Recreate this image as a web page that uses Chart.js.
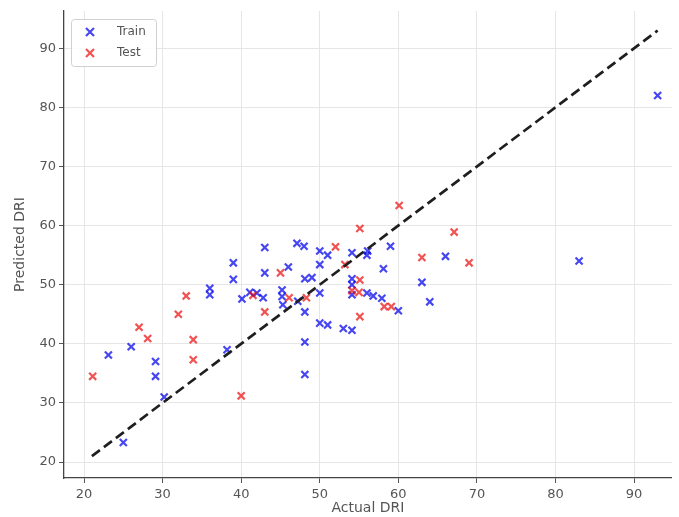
<!DOCTYPE html>
<html><head><meta charset="utf-8">
<script src="https://cdn.jsdelivr.net/npm/chart.js@4.4.1/dist/chart.umd.min.js"></script>
<style>html,body{margin:0;padding:0;background:#fff;overflow:hidden}#wrap{width:679px;height:517px;position:relative}canvas{display:block}</style>
</head><body><div id="wrap"><canvas id="c" width="679" height="517" style="width:679px;height:517px"></canvas></div>
<script>
// Data
const trainActual = [93, 83, 25, 23.1, 26, 29.1, 29.1, 30.2, 36, 36, 38.2, 39, 39, 40.1, 41.1, 42, 42.8, 43, 43, 46, 47.1, 48, 48.1, 49, 50, 45.2, 45.2, 45.3, 47.2, 48.1, 48.1, 48.1, 50, 51, 50, 50, 51, 53, 54.1, 54.1, 56.1, 59, 58.1, 54.1, 54.1, 54.1, 56, 56.8, 57.9, 60, 63, 64, 66, 56];
const trainPred   = [82, 54, 23.3, 38.1, 39.5, 37, 34.5, 31, 49.4, 48.3, 39, 53.7, 50.9, 47.6, 48.7, 48.6, 47.8, 56.3, 52, 53, 57, 56.5, 51, 51.2, 48.6, 49.1, 48, 46.6, 47.2, 45.4, 40.3, 34.8, 55.7, 55, 53.4, 43.5, 43.2, 42.6, 42.3, 55.4, 55.7, 56.5, 52.7, 51, 50, 48.3, 48.6, 48.1, 47.7, 45.6, 50.4, 47.1, 54.8, 55];
const testActual  = [21.1, 27, 28.1, 32, 33, 33.9, 33.9, 40, 41.5, 43, 45, 46.1, 48.3, 52, 53.2, 55.1, 55.1, 54.1, 55, 55.1, 58.2, 59.1, 60.1, 63, 67.1, 69];
const testPred    = [34.5, 42.8, 40.9, 45, 48.1, 40.7, 37.3, 31.2, 48.2, 45.4, 52, 47.8, 47.8, 56.4, 53.4, 59.5, 50.8, 49, 48.7, 44.6, 46.3, 46.3, 63.4, 54.6, 58.9, 53.7];
const idealLine   = [21, 93];
const xTicks = [20, 30, 40, 50, 60, 70, 80, 90];
const yTicks = [20, 30, 40, 50, 60, 70, 80, 90];
const seriesNames = ['Train', 'Test'];
const xTitle = 'Actual DRI';
const yTitle = 'Predicted DRI';

const BLUE = 'rgba(0,0,235,0.72)';
const RED = 'rgba(235,0,0,0.68)';
const FONT = '"DejaVu Sans", sans-serif';

const toPts = (xs, ys) => xs.map((x, i) => ({x: x, y: ys[i]}));

const legendPlugin = {
  id: 'boxLegend',
  afterDraw(chart) {
    const ctx = chart.ctx;
    ctx.save();
    const x0 = 71, y0 = 19, w = 85, h = 47;
    ctx.fillStyle = 'rgba(255,255,255,0.85)';
    ctx.strokeStyle = '#d0d0d0';
    ctx.lineWidth = 1;
    ctx.beginPath();
    ctx.roundRect(x0 + 0.5, y0 + 0.5, w, h, 3);
    ctx.fill(); ctx.stroke();
    const cols = [BLUE, RED];
    seriesNames.forEach((name, i) => {
      const cy = y0 + 13 + i * 21;
      const cx = 90;
      ctx.strokeStyle = cols[i];
      ctx.lineWidth = 2.2;
      ctx.beginPath();
      ctx.moveTo(cx - 4, cy - 4); ctx.lineTo(cx + 4, cy + 4);
      ctx.moveTo(cx - 4, cy + 4); ctx.lineTo(cx + 4, cy - 4);
      ctx.stroke();
      ctx.fillStyle = '#555';
      ctx.font = '12px ' + FONT;
      ctx.textBaseline = 'middle';
      ctx.textAlign = 'left';
      ctx.fillText(name, 117, cy);
    });
    ctx.restore();
  }
};

new Chart(document.getElementById('c'), {
  type: 'scatter',
  data: {
    datasets: [
      {
        type: 'line', label: 'ideal',
        data: toPts(idealLine, idealLine),
        borderColor: '#1f1f1f', borderWidth: 2.7, borderDash: [10, 5],
        pointRadius: 0, fill: false, order: 0
      },
      {
        label: seriesNames[0], data: toPts(trainActual, trainPred),
        pointStyle: 'crossRot', pointRadius: 5, pointBorderWidth: 2.2,
        borderColor: BLUE, backgroundColor: BLUE, order: 2
      },
      {
        label: seriesNames[1], data: toPts(testActual, testPred),
        pointStyle: 'crossRot', pointRadius: 5, pointBorderWidth: 2.2,
        borderColor: RED, backgroundColor: RED, order: 1
      }
    ]
  },
  options: {
    responsive: false,
    animation: false,
    devicePixelRatio: 1,
    layout: { padding: { top: 11, right: 0, left: 0, bottom: 0 } },
    plugins: { legend: { display: false }, tooltip: { enabled: false } },
    scales: {
      x: {
        type: 'linear', min: 17.45, max: 94.8,
        afterBuildTicks: s => { s.ticks = xTicks.map(v => ({value: v})); },
        afterFit: s => { s.height = 39; },
        grid: { color: '#e6e6e6', lineWidth: 1, tickLength: 5, tickColor: '#555', drawTicks: true },
        border: { display: true, color: '#444', width: 1.3 },
        ticks: { color: '#555', font: { family: FONT, size: 13 }, padding: 4, maxRotation: 0 },
        title: { display: true, text: xTitle, color: '#555', font: { family: FONT, size: 14 }, padding: { top: 0, bottom: 0 } }
      },
      y: {
        type: 'linear', min: 17.3, max: 96.3,
        afterBuildTicks: s => { s.ticks = yTicks.map(v => ({value: v})); },
        afterFit: s => { s.width = 64; },
        grid: { color: '#e6e6e6', lineWidth: 1, tickLength: 5, tickColor: '#555', drawTicks: true },
        border: { display: true, color: '#444', width: 1.3 },
        ticks: { color: '#555', font: { family: FONT, size: 13 }, padding: 3 },
        title: { display: true, text: yTitle, color: '#555', font: { family: FONT, size: 14 }, padding: { top: 12, bottom: 0 } }
      }
    }
  },
  plugins: [legendPlugin]
});
</script>
</body></html>
